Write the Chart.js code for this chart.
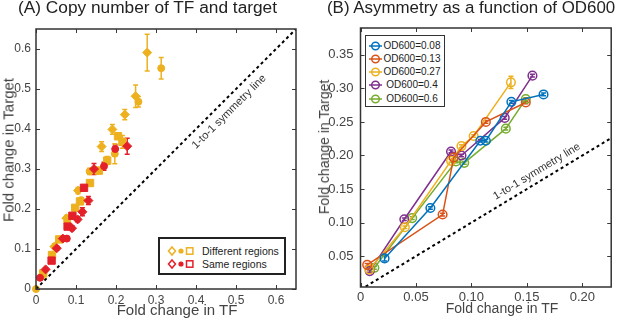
<!DOCTYPE html>
<html><head><meta charset="utf-8">
<script src="https://cdn.jsdelivr.net/npm/chart.js@4/dist/chart.umd.min.js"></script>
<style>
html,body{margin:0;padding:0;background:#fff;}
#wrap{position:relative;width:617px;height:321px;overflow:hidden;font-family:"Liberation Sans",Arial,sans-serif;color:#222;}
canvas{position:absolute;top:0;}
.title{position:absolute;top:-1px;line-height:17px;color:#222;white-space:nowrap;}
.ax{position:absolute;white-space:nowrap;color:#444;transform:translate(-50%,-50%);}
.ax.v{transform:translate(-50%,-50%) rotate(-90deg);}
.legend{position:absolute;background:#fff;box-sizing:border-box;}
.row{position:absolute;left:0;right:0;height:12px;line-height:12px;white-space:nowrap;}
svg{position:absolute;overflow:visible;}
</style></head><body>
<div id="wrap">
<canvas id="cA" width="310" height="321" style="left:0"></canvas>
<canvas id="cB" width="307" height="321" style="left:310px"></canvas>
<div class="title" style="left:18px;font-size:17.3px">(A) Copy number of TF and target</div>
<div class="title" style="left:327px;font-size:16.9px">(B) Asymmetry as a function of OD600</div>
<div class="ax" style="left:177px;top:308.5px;font-size:15px;line-height:15px">Fold change in TF</div>
<div class="ax v" style="left:7.5px;top:150px;font-size:15px;line-height:15px">Fold change in Target</div>
<div class="ax" style="left:502px;top:307.5px;font-size:14px;line-height:14px">Fold change in TF</div>
<div class="ax v" style="left:324px;top:147px;font-size:14px;line-height:14px">Fold change in Target</div>
<div class="legend" id="legA" style="left:158px;top:237px;width:128px;height:38px;border:2px solid #222;"></div>
<div class="legend" id="legB" style="left:365px;top:35px;width:80px;height:72px;border:1.5px solid #333;"></div>
</div>
<script>
// ---------- Panel A data ----------
const ticksA = [0, 0.1, 0.2, 0.3, 0.4, 0.5, 0.6];
const symA = [0, 0.65];
const diffDiamondX = [0.278, 0.249, 0.222, 0.191, 0.164, 0.105, 0.076, 0.046];
const diffDiamondY = [0.591, 0.482, 0.436, 0.399, 0.356, 0.246, 0.177, 0.106];
const diffDiamondErr = [0.046, 0.028, 0.013, 0.012, 0.012, 0.008, 0.007, 0.007];
const diffCircleX = [0.313, 0.256, 0.197, 0.134, 0.113, 0.078, 0.014, 0];
const diffCircleY = [0.552, 0.468, 0.338, 0.294, 0.222, 0.168, 0.032, 0];
const diffCircleErr = [0.027, 0.013, 0.025, 0.008, 0.007, 0.006, 0.004, 0];
const diffSquareX = [0.205, 0.216, 0.178, 0.157, 0.135, 0.110, 0.098, 0.058, 0.040, 0.018];
const diffSquareY = [0.382, 0.368, 0.321, 0.296, 0.265, 0.219, 0.203, 0.124, 0.085, 0.039];
const diffSquareErr = [0.008, 0.016, 0.010, 0.008, 0.006, 0.006, 0.005, 0.005, 0.006, 0.004];
const sameDiamondX = [0.228, 0.145, 0.131, 0.116, 0.104, 0.090, 0.067, 0.052, 0.024];
const sameDiamondY = [0.357, 0.300, 0.221, 0.193, 0.174, 0.152, 0.126, 0.102, 0.049];
const sameDiamondErr = [0.020, 0.014, 0.010, 0.010, 0.006, 0.006, 0.006, 0.005, 0.004];
const sameCircleX = [0.198, 0.170, 0.077, 0.010];
const sameCircleY = [0.350, 0.307, 0.126, 0.028];
const sameCircleErr = [0.010, 0.010, 0.005, 0.004];
const sameSquareX = [0.120, 0.091, 0.079, 0.039];
const sameSquareY = [0.253, 0.183, 0.156, 0.071];
const sameSquareErr = [0.006, 0.005, 0.006, 0.005];

// ---------- Panel B data ----------
const ticksBX = [0, 0.05, 0.1, 0.15, 0.2];
const ticksBY = [0.05, 0.1, 0.15, 0.2, 0.25, 0.3, 0.35];
const symB = [0, 0.3];
const odLabels = ['OD600=0.08', 'OD600=0.13', 'OD600=0.27', 'OD600=0.4', 'OD600=0.6'];
const od008X = [0.0217, 0.063, 0.108, 0.113, 0.136, 0.165];
const od008Y = [0.0466, 0.1217, 0.222, 0.222, 0.280, 0.291];
const od008Err = [0.004, 0.002, 0.002, 0.002, 0.002, 0.002];
const od013X = [0.006, 0.074, 0.084, 0.113, 0.149];
const od013Y = [0.037, 0.112, 0.197, 0.250, 0.279];
const od013Err = [0.002, 0.002, 0.002, 0.002, 0.002];
const od027X = [0.008, 0.040, 0.0816, 0.091, 0.102, 0.1356];
const od027Y = [0.030, 0.093, 0.192, 0.214, 0.229, 0.309];
const od027Err = [0.002, 0.002, 0.002, 0.002, 0.002, 0.009];
const od04X = [0.0083, 0.0395, 0.0816, 0.091, 0.130, 0.155];
const od04Y = [0.0277, 0.105, 0.206, 0.200, 0.256, 0.319];
const od04Err = [0.002, 0.002, 0.002, 0.002, 0.002, 0.002];
const od06X = [0.0125, 0.0466, 0.086, 0.0935, 0.131, 0.149];
const od06Y = [0.0326, 0.1067, 0.191, 0.189, 0.240, 0.284];
const od06Err = [0.002, 0.002, 0.002, 0.002, 0.002, 0.002];

const ORANGE = '#EDB120', RED = '#E3202A';
const odColors = ['#0072BD', '#D95319', '#EDB120', '#7E2F8E', '#77AC30'];
const FONT = '"Liberation Sans", Arial, sans-serif';

const pts = (xs, ys) => xs.map((x, i) => ({x, y: ys[i]}));

const framePlugin = {
  id: 'frame',
  beforeDatasetsDraw(chart) {
    const {ctx, scales: {x, y}} = chart;
    chart.data.datasets.forEach((ds, i) => {
      if (!ds.errors || !chart.isDatasetVisible(i)) return;
      ctx.save();
      ctx.strokeStyle = ds.borderColor;
      ctx.lineWidth = 1.5;
      ds.data.forEach((p, j) => {
        const e = ds.errors[j];
        if (!e) return;
        const px = x.getPixelForValue(p.x);
        const y1 = y.getPixelForValue(p.y - e), y2 = y.getPixelForValue(p.y + e);
        ctx.beginPath();
        ctx.moveTo(px, y1); ctx.lineTo(px, y2);
        ctx.moveTo(px - 2.5, y1); ctx.lineTo(px + 2.5, y1);
        ctx.moveTo(px - 2.5, y2); ctx.lineTo(px + 2.5, y2);
        ctx.stroke();
      });
      ctx.restore();
    });
  },
  afterDatasetsDraw(chart, args, opts) {
    const {ctx, scales: {x, y}} = chart;
    if (opts.label) {
      const L = opts.label;
      const px = x.getPixelForValue(L.x), py = y.getPixelForValue(L.y);
      const ang = Math.atan2(y.getPixelForValue(1) - y.getPixelForValue(0), x.getPixelForValue(1) - x.getPixelForValue(0));
      ctx.save();
      ctx.translate(px, py);
      ctx.rotate(ang);
      ctx.font = L.size + 'px ' + FONT;
      ctx.fillStyle = '#333';
      ctx.textAlign = 'center';
      ctx.textBaseline = 'middle';
      ctx.fillText(L.text, 0, 0);
      ctx.restore();
    }
  },
  afterDraw(chart, args, opts) {
    const {ctx, chartArea: a, scales: {x, y}} = chart;
    ctx.save();
    ctx.strokeStyle = '#3a3a3a';
    ctx.lineWidth = 1;
    const tl = 4;
    ctx.beginPath();
    opts.ticksX.forEach(v => {
      const px = Math.round(x.getPixelForValue(v)) + 0.5;
      ctx.moveTo(px, a.bottom); ctx.lineTo(px, a.bottom - tl);
      ctx.moveTo(px, a.top); ctx.lineTo(px, a.top + tl);
    });
    opts.ticksY.forEach(v => {
      const py = Math.round(y.getPixelForValue(v)) + 0.5;
      ctx.moveTo(a.left, py); ctx.lineTo(a.left + tl, py);
      ctx.moveTo(a.right, py); ctx.lineTo(a.right - tl, py);
    });
    ctx.stroke();
    ctx.lineWidth = 1.5;
    ctx.strokeStyle = '#333';
    ctx.strokeRect(a.left, a.top, a.right - a.left, a.bottom - a.top);
    ctx.restore();
  }
};

function axis(min, max, tickVals, o) {
  return {
    type: 'linear', min, max,
    afterBuildTicks: s => { s.ticks = tickVals.map(v => ({value: v})); },
    afterFit: o.fit,
    ticks: {font: {family: FONT, size: o.tick}, color: '#444', padding: o.pad, maxRotation: 0, autoSkip: false},
    grid: {display: false, drawTicks: false, tickLength: 0},
    border: {display: false},
    title: {display: false}
  };
}

function markerSet(xs, ys, errs, color, style, r) {
  return {
    data: pts(xs, ys), errors: errs, borderColor: color, backgroundColor: color,
    pointStyle: style, pointRadius: r, pointHoverRadius: r, borderWidth: 1, clip: false
  };
}

new Chart(document.getElementById('cA'), {
  type: 'scatter',
  data: {
    datasets: [
      {type: 'line', data: pts(symA, symA), borderColor: '#000', borderWidth: 2, borderDash: [3, 3], pointRadius: 0, clip: 0},
      markerSet(sameDiamondX, sameDiamondY, sameDiamondErr, RED, 'rectRot', 4.5),
      markerSet(sameCircleX, sameCircleY, sameCircleErr, RED, 'circle', 3.5),
      markerSet(sameSquareX, sameSquareY, sameSquareErr, RED, 'rect', 5.2),
      markerSet(diffDiamondX, diffDiamondY, diffDiamondErr, ORANGE, 'rectRot', 4.5),
      markerSet(diffCircleX, diffCircleY, diffCircleErr, ORANGE, 'circle', 3.5),
      markerSet(diffSquareX, diffSquareY, diffSquareErr, ORANGE, 'rect', 5.2)
    ]
  },
  options: {
    responsive: false, animation: false, events: [],
    layout: {padding: {left: 0, top: 29, right: 14, bottom: 0}},
    scales: {
      x: axis(0, 0.65, ticksA, {tick: 12, pad: 4, fit: s => { s.height = 32; }}),
      y: axis(0, 0.65, ticksA, {tick: 12, pad: 5, fit: s => { s.width = 36; }})
    },
    plugins: {
      legend: {display: false}, tooltip: {enabled: false},
      frame: {ticksX: ticksA, ticksY: ticksA, label: {text: '1-to-1 symmetry line', x: 0.483, y: 0.443, size: 11}}
    }
  },
  plugins: [framePlugin]
});

const odX = [od008X, od013X, od027X, od04X, od06X];
const odY = [od008Y, od013Y, od027Y, od04Y, od06Y];
const odErr = [od008Err, od013Err, od027Err, od04Err, od06Err];

new Chart(document.getElementById('cB'), {
  type: 'scatter',
  data: {
    datasets: [
      {data: pts(symB, symB), showLine: true, borderColor: '#000', borderWidth: 2, borderDash: [3, 3], pointRadius: 0, clip: 0}
    ].concat(odLabels.map((lab, i) => ({
      label: lab, data: pts(odX[i], odY[i]), errors: odErr[i], showLine: true,
      borderColor: odColors[i], backgroundColor: 'rgba(0,0,0,0)', borderWidth: 1.5,
      pointBorderColor: odColors[i], pointBackgroundColor: 'rgba(0,0,0,0)', pointBorderWidth: 1.5,
      pointRadius: 4.3, pointHoverRadius: 4.3, clip: false
    })))
  },
  options: {
    responsive: false, animation: false, events: [],
    layout: {padding: {left: 8, top: 28, right: 1, bottom: 0}},
    scales: {
      x: axis(0, 0.226, ticksBX, {tick: 13, pad: 3, fit: s => { s.height = 34; }}),
      y: axis(0.004, 0.39, ticksBY, {tick: 13, pad: 7, fit: s => { s.width = 42.5; }})
    },
    plugins: {
      legend: {display: false}, tooltip: {enabled: false},
      frame: {ticksX: ticksBX, ticksY: ticksBY, label: {text: '1-to-1 symmetry line', x: 0.159, y: 0.176, size: 11}}
    }
  },
  plugins: [framePlugin]
});

// ---------- HTML legends ----------
const legA = document.getElementById('legA');
[['Different regions', ORANGE], ['Same regions', RED]].forEach((item, i) => {
  const row = document.createElement('div');
  row.className = 'row';
  row.style.top = (6 + i * 13) + 'px';
  row.innerHTML =
    '<svg width="30" height="12" style="left:8px;top:0">' +
    '<polygon points="4,2 7.5,6 4,10 0.5,6" fill="none" stroke="' + item[1] + '" stroke-width="1.5"/>' +
    '<circle cx="13" cy="6" r="2.6" fill="' + item[1] + '"/>' +
    '<rect x="18.5" y="2.8" width="6.4" height="6.4" fill="none" stroke="' + item[1] + '" stroke-width="1.5"/>' +
    '</svg><span style="position:absolute;left:42px;font-size:10.5px;color:#222">' + item[0] + '</span>';
  legA.appendChild(row);
});
const legB = document.getElementById('legB');
odLabels.forEach((lab, i) => {
  const row = document.createElement('div');
  row.className = 'row';
  row.style.top = (3.5 + i * 13.3) + 'px';
  row.innerHTML =
    '<svg width="16" height="12" style="left:2.5px;top:0">' +
    '<line x1="0" y1="6" x2="13" y2="6" stroke="' + odColors[i] + '" stroke-width="1.5"/>' +
    '<circle cx="6.5" cy="6" r="3.8" fill="none" stroke="' + odColors[i] + '" stroke-width="1.5"/>' +
    '</svg><span style="position:absolute;left:16px;width:60px;text-align:center;font-size:10px;color:#222">' + lab + '</span>';
  legB.appendChild(row);
});
</script>
</body></html>
